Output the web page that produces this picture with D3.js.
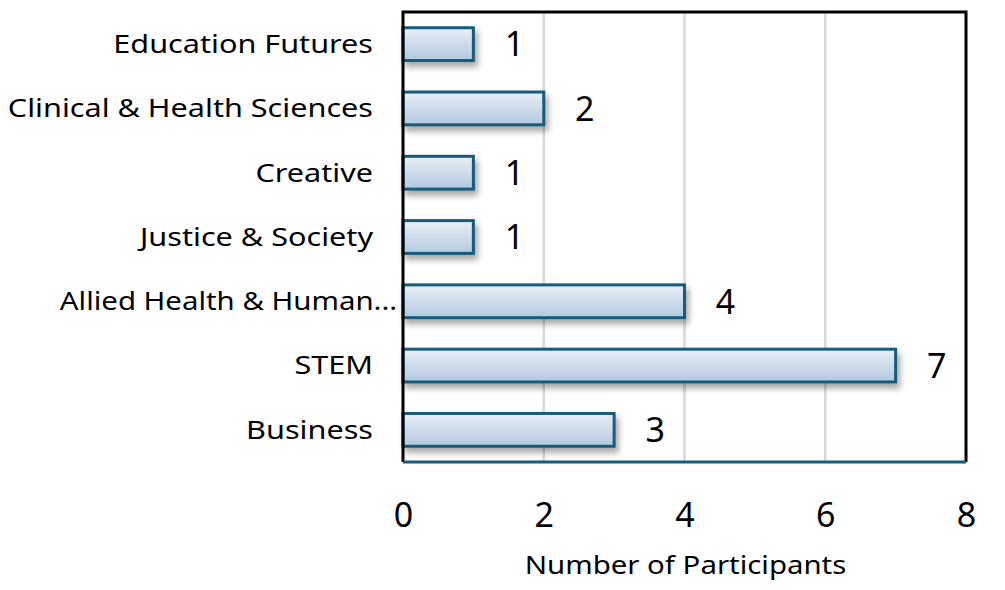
<!DOCTYPE html>
<html><head><meta charset="utf-8">
<script src="https://cdn.jsdelivr.net/npm/d3@7"></script>
<style>body{margin:0;background:#fff;}</style>
</head><body>
<svg id="c" width="1005" height="590"></svg>
<script>
const categories = ["Education Futures","Clinical & Health Sciences","Creative","Justice & Society","Allied Health & Human...","STEM","Business"];
const values = [1,2,1,1,4,7,3];
const xTicks = [0,2,4,6,8];
const xTitle = "Number of Participants";

const svg = d3.select("#c");
const m = {l:403, r:966, t:12, b:462};
const x = d3.scaleLinear().domain([0,8]).range([m.l,m.r]);
const y = d3.scaleBand().domain(categories).range([m.t,m.b]).paddingInner(0.49).paddingOuter(0.245);

const defs = svg.append("defs");
const g = defs.append("linearGradient").attr("id","bg").attr("x1",0).attr("y1",0).attr("x2",0).attr("y2",1);
g.append("stop").attr("offset","0%").attr("stop-color","#e9eff7");
g.append("stop").attr("offset","100%").attr("stop-color","#b3c9df");
const f = defs.append("filter").attr("id","sh").attr("x","-10%").attr("y","-30%").attr("width","130%").attr("height","180%");
f.append("feDropShadow").attr("dx",3).attr("dy",5).attr("stdDeviation",3).attr("flood-color","#000").attr("flood-opacity",0.35);

const font = "'Noto Sans', sans-serif";
const sx = 1.25; // horizontal stretch for label text

// gridlines
svg.append("g").selectAll("line").data(xTicks.filter(d=>d>0&&d<8)).join("line")
  .attr("x1",d=>x(d)).attr("x2",d=>x(d)).attr("y1",m.t).attr("y2",m.b)
  .attr("stroke","#d9d9d9").attr("stroke-width",2.5);

// bars
svg.append("g").selectAll("rect").data(values).join("rect")
  .attr("x",x(0)).attr("y",(d,i)=>y(categories[i]))
  .attr("width",d=>x(d)-x(0)).attr("height",y.bandwidth())
  .attr("fill","url(#bg)").attr("stroke","#155c7e").attr("stroke-width",3)
  .attr("filter","url(#sh)");

// value labels
svg.append("g").selectAll("text").data(values).join("text")
  .attr("x",d=>x(d)+41).attr("y",(d,i)=>y(categories[i])+y.bandwidth()/2)
  .attr("dy","0.36em").attr("text-anchor","middle")
  .style("font-family",font).style("font-size","34px").attr("fill","#000").text(d=>d);

// frame
svg.append("path").attr("d",`M${m.l},${m.b}V${m.t}H${m.r}V${m.b}`)
  .attr("fill","none").attr("stroke","#000").attr("stroke-width",3);
svg.append("line").attr("x1",m.l).attr("x2",m.r).attr("y1",m.b).attr("y2",m.b)
  .attr("stroke","#155c7e").attr("stroke-width",3);

// category labels (truncated labels sit closer to the axis)
const ya = d3.axisLeft(y).tickSize(0).tickPadding(30);
const yg = svg.append("g").attr("transform",`translate(${m.l},0)`).call(ya);
yg.select(".domain").remove();
yg.selectAll("text").style("font-family",font).style("font-size","24.5px").attr("fill","#000")
  .attr("dy","0.36em")
  .attr("x",d=>-(d.endsWith("...")?6:30)/sx)
  .attr("transform",d=>`scale(${d.endsWith("...")?1.2:sx},1)`);

// x axis
const xa = d3.axisBottom(x).tickValues(xTicks).tickSize(0).tickPadding(40.5);
const xg = svg.append("g").attr("transform",`translate(0,${m.b})`).call(xa);
xg.select(".domain").remove();
xg.selectAll("text").style("font-family",font).style("font-size","34px").attr("fill","#000");

svg.append("text").attr("text-anchor","middle")
  .attr("transform",`translate(${(m.l+m.r)/2+1},574) scale(1.2,1)`)
  .style("font-family",font).style("font-size","24.5px").attr("fill","#000").text(xTitle);
</script>
</body></html>
